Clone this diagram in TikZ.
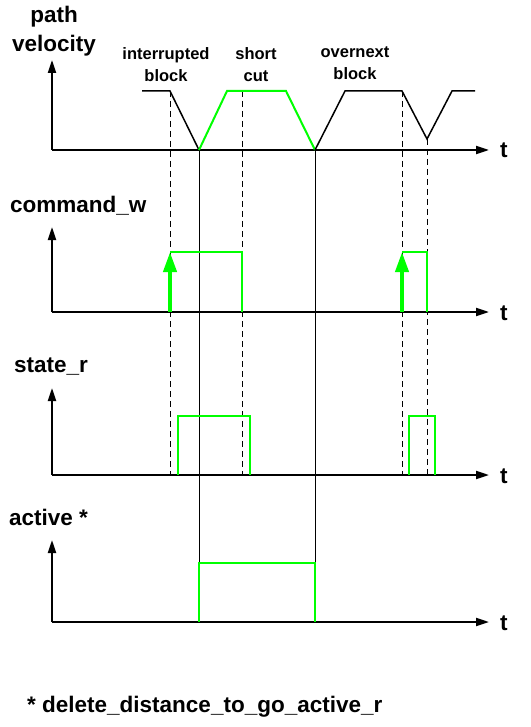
\documentclass[tikz,border=0pt]{standalone}
\usepackage{fontspec}
\setmainfont{Liberation Sans}
\usetikzlibrary{arrows.meta}
\definecolor{sigGreen}{RGB}{0,255,0}

\begin{document}
\begin{tikzpicture}[x=1pt,y=-1pt,
    axis/.style={line width=2pt,-{Triangle[length=13pt,width=8pt]}},
    sig/.style={line width=2pt,draw=sigGreen},
    trigger/.style={line width=4pt,draw=sigGreen,-{Triangle[length=20pt,width=13pt]}},
    marker/.style={line width=0.8pt,dash pattern=on 6pt off 4pt},
    biglabel/.style={font=\fontsize{22.5}{24}\selectfont\bfseries,inner sep=0pt},
    smalllabel/.style={font=\fontsize{16.5}{22}\selectfont\bfseries,inner sep=0pt,align=center}]

    % Zeitpunkte
    \def\tA{170}
    \def\tB{199}
    \def\tC{242}
    \def\tD{315}
    \def\tE{402}
    \def\tF{427}

    % Nulllinien der Diagramme
    \def\yV{150}
    \def\yC{312}
    \def\yS{475}
    \def\yA{622}

    \useasboundingbox[fill=white] (0,0) rectangle (530,727);

    % Achsen
    \draw[axis] (52,\yV) -- (52,60);
    \draw[axis] (52,\yV) -- (489,\yV);
    \draw[axis] (52,\yC) -- (52,227);
    \draw[axis] (52,\yC) -- (489,\yC);
    \draw[axis] (52,\yS) -- (52,388);
    \draw[axis] (52,\yS) -- (489,\yS);
    \draw[axis] (52,\yA) -- (52,540);
    \draw[axis] (52,\yA) -- (489,\yA);

    % Beschriftung der Achsen
    \node[biglabel,anchor=base] (path) at (54,23) {path};
    \node[biglabel,anchor=base] (velocity) at (54,52) {velocity};
    \node[biglabel,anchor=base west] (command) at (10,212) {command\_w};
    \node[biglabel,anchor=base west] (state) at (14,372) {state\_r};
    \node[biglabel,anchor=base west] (active) at (9,525) {active *};
    \node[biglabel,anchor=base west] (tV) at (500,158) {t};
    \node[biglabel,anchor=base west] (tC) at (500,320) {t};
    \node[biglabel,anchor=base west] (tS) at (500,483) {t};
    \node[biglabel,anchor=base west] (tA) at (500,630) {t};

    % Beschriftung der Satzabschnitte
    \node[smalllabel,anchor=north] (interrupted) at (166,47) {interrupted\\block};
    \node[smalllabel,anchor=north] (shortcut) at (256,47) {short\\cut};
    \node[smalllabel,anchor=north] (overnext) at (355,47) {overnext\\block};

    % Hilfslinien
    \draw[marker] (\tA,91) -- (\tA,\yS);
    \draw[marker] (\tC,91) -- (\tC,\yS);
    \draw[marker] (\tE,91) -- (\tE,\yS);
    \draw[marker] (\tF,139) -- (\tF,\yS);
    \draw[line width=0.8pt] (\tB,\yV) -- (\tB,563);
    \draw[line width=0.8pt] (\tD,\yV) -- (\tD,563);

    % Bahngeschwindigkeit
    \draw[line width=1.5pt] (142,91) -- (\tA,91) -- (\tB,\yV);
    \draw[sig] (\tB,\yV) -- (227,91) -- (286,91) -- (\tD,\yV);
    \draw[line width=1.5pt] (\tD,\yV) -- (345,91) -- (\tE,91) -- (\tF,139) -- (452,91) -- (475,91);

    % command_w
    \draw[sig] (\tA,252) -- (\tC,252) -- (\tC,\yC);
    \draw[trigger] (\tA,\yC) -- (\tA,252);
    \draw[sig] (\tE,252) -- (\tF,252) -- (\tF,\yC);
    \draw[trigger] (\tE,\yC) -- (\tE,252);

    % state_r
    \draw[sig] (178,\yS) -- (178,416) -- (250,416) -- (250,\yS);
    \draw[sig] (409,\yS) -- (409,416) -- (435,416) -- (435,\yS);

    % active
    \draw[sig] (\tB,\yA) -- (\tB,563) -- (\tD,563) -- (\tD,\yA);

    % Fussnote
    \node[biglabel,anchor=base west] (footnote) at (27,712) {* delete\_distance\_to\_go\_active\_r};
\end{tikzpicture}
\end{document}
